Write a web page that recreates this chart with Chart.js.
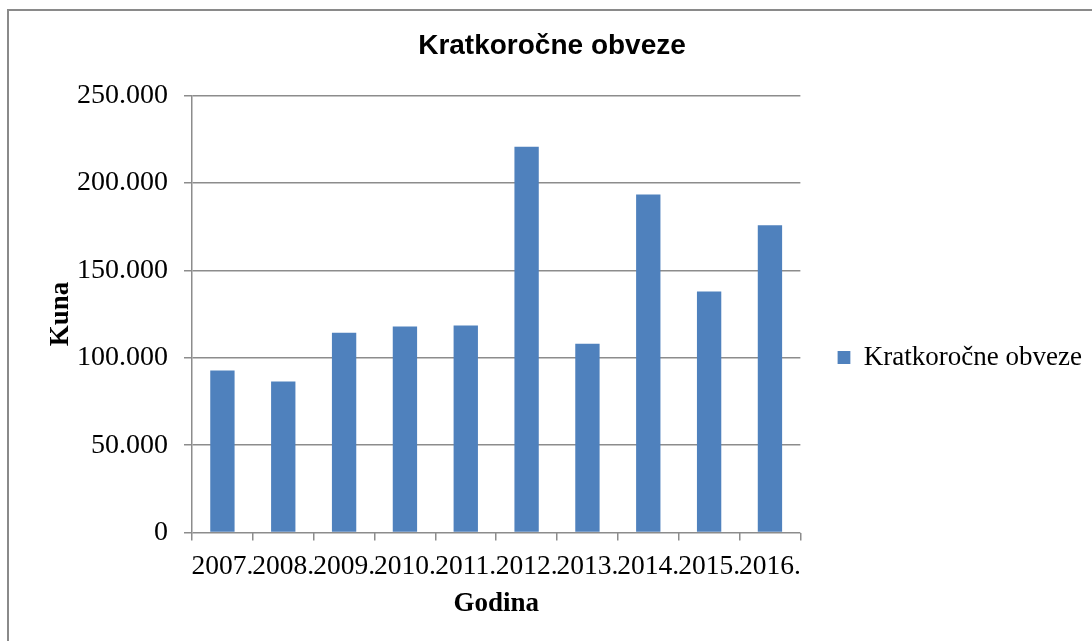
<!DOCTYPE html>
<html>
<head>
<meta charset="utf-8">
<script src="https://cdn.jsdelivr.net/npm/chart.js@4"></script>
<style>
  html, body { margin: 0; padding: 0; background: #fff; overflow: hidden; }
  #wrap { position: relative; width: 1092px; height: 641px; }
  #frame { position: absolute; left: 7px; top: 9px; width: 1200px; height: 800px; border: 2px solid #8a8a8a; }
  canvas { position: absolute; left: 0; top: 0; }
</style>
</head>
<body>
<div id="wrap">
  <div id="frame"></div>
  <canvas id="chart" width="1092" height="641"></canvas>
</div>
<script>
// Podaci
const godine = ["2007.", "2008.", "2009.", "2010.", "2011.", "2012.", "2013.", "2014.", "2015.", "2016."];
const obveze = [92700, 86400, 114300, 117900, 118500, 220700, 108000, 193400, 138000, 175800];
const yTicks = [0, 50000, 100000, 150000, 200000, 250000];

const serif = "'Liberation Serif', 'Times New Roman', serif";
const sans = "'Liberation Sans', Arial, sans-serif";
const gridColor = "#8c8c8c";

// 250000 -> "250.000"
function fmt(v) {
  return String(v).replace(/\B(?=(\d{3})+(?!\d))/g, ".");
}

new Chart(document.getElementById("chart"), {
  type: "bar",
  data: {
    labels: godine,
    datasets: [
      {
        label: "Kratkoročne obveze",
        data: obveze,
        backgroundColor: "#4f81bd",
        borderWidth: 0,
        barPercentage: 0.4,
        categoryPercentage: 1.0
      }
    ]
  },
  options: {
    responsive: false,
    animation: false,
    layout: {
      padding: { left: 12, right: 0, top: 29, bottom: 21 }
    },
    plugins: {
      title: {
        display: true,
        text: "Kratkoročne obveze",
        color: "#000",
        font: { family: sans, size: 28, weight: "bold" },
        padding: { top: 0, bottom: 33 }
      },
      legend: {
        position: "right",
        maxWidth: 400,
        // prazan naslov legende spušta stavku prema dolje
        title: {
          display: true,
          text: " ",
          font: { size: 10, lineHeight: 1.2 },
          padding: 27
        },
        labels: {
          color: "#000",
          font: { family: serif, size: 27 },
          boxWidth: 13,
          boxHeight: 13,
          padding: 0
        }
      },
      tooltip: { enabled: false }
    },
    scales: {
      x: {
        grid: {
          display: true,
          drawOnChartArea: false,
          drawTicks: true,
          tickLength: 8,
          color: gridColor,
          lineWidth: 1.5
        },
        border: { display: false },
        ticks: {
          color: "#000",
          font: { family: serif, size: 27.5 },
          autoSkip: false,
          maxRotation: 0,
          minRotation: 0,
          padding: 10
        },
        title: {
          display: true,
          text: "Godina",
          color: "#000",
          font: { family: serif, size: 27, weight: "bold" },
          padding: { top: 4, bottom: 0 }
        },
        // padding oznaka se u fit() broji dvaput
        afterFit: scale => {
          scale.height -= 10;
        }
      },
      y: {
        min: 0,
        max: 250000,
        afterBuildTicks: axis => {
          axis.ticks = yTicks.map(v => ({ value: v }));
        },
        grid: {
          color: gridColor,
          lineWidth: 1.5,
          drawTicks: true,
          tickLength: 8
        },
        border: { display: true, color: gridColor, width: 1.5 },
        ticks: {
          color: "#000",
          font: { family: serif, size: 28 },
          padding: 16,
          callback: v => fmt(v)
        },
        title: {
          display: true,
          text: "Kuna",
          color: "#000",
          font: { family: serif, size: 27, weight: "bold", lineHeight: 0.25 },
          padding: { top: 46, bottom: 0 }
        }
      },
      // prazan prostor između grafa i legende
      y2: {
        position: "right",
        display: true,
        grid: { display: false },
        border: { display: false },
        ticks: { display: false },
        afterFit: scale => {
          scale.width = 37;
        }
      }
    }
  }
});
</script>
</body>
</html>
